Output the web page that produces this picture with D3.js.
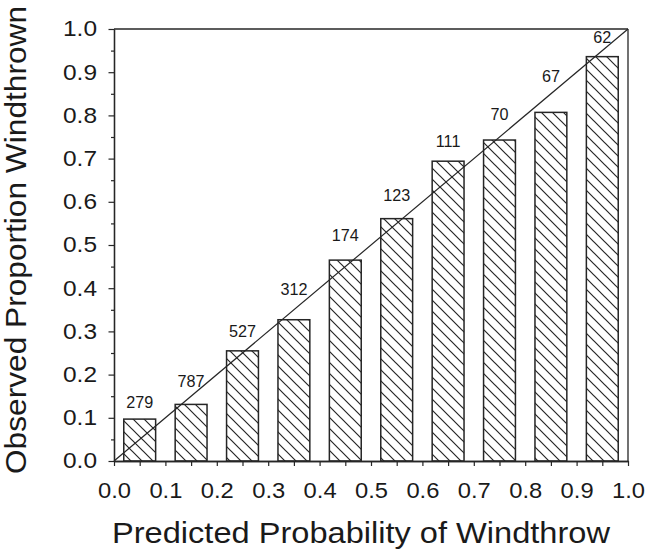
<!DOCTYPE html>
<html>
<head>
<meta charset="utf-8">
<script src="https://cdn.jsdelivr.net/npm/d3@7"></script>
<style>
  html, body { margin: 0; padding: 0; background: #fff; }
  svg { display: block; }
  text { font-family: "Liberation Sans", Arial, sans-serif; fill: #1a1a1a; }
</style>
</head>
<body>
<svg id="chart" width="647" height="558"></svg>
<script>
// ---- data ----
const binCenters = [0.05, 0.15, 0.25, 0.35, 0.45, 0.55, 0.65, 0.75, 0.85, 0.95];
const observed   = [0.097, 0.131, 0.255, 0.327, 0.465, 0.561, 0.694, 0.743, 0.807, 0.936];
const counts     = [279, 787, 527, 312, 174, 123, 111, 70, 67, 62];
const countLabelY = [0.136, 0.184, 0.301, 0.398, 0.523, 0.614, 0.741, 0.803, 0.891, 0.980];
const majorTicks = [0.0, 0.1, 0.2, 0.3, 0.4, 0.5, 0.6, 0.7, 0.8, 0.9, 1.0];
const minorTicks = [0.05, 0.15, 0.25, 0.35, 0.45, 0.55, 0.65, 0.75, 0.85, 0.95];
const xTitle = "Predicted Probability of Windthrow";
const yTitle = "Observed Proportion Windthrown";

// ---- layout ----
const svg = d3.select("#chart");
const L = 114, R = 628, T = 29, B = 461;
const x = d3.scaleLinear().domain([0, 1]).range([L, R]);
const y = d3.scaleLinear().domain([0, 1]).range([B, T]);
const barW = 0.062; // in data units
const ink = "#262626";

// hatch pattern
const defs = svg.append("defs");
const pat = defs.append("pattern")
  .attr("id", "hatch")
  .attr("patternUnits", "userSpaceOnUse")
  .attr("width", 11).attr("height", 11);
pat.append("path")
  .attr("d", "M-2,-2 L13,13 M-2,9 L2,13 M9,-2 L13,2")
  .attr("stroke", ink).attr("stroke-width", 1.2).attr("fill", "none");

// bars
const data = binCenters.map((c, i) => ({ c, v: observed[i], n: counts[i], ly: countLabelY[i] }));
svg.append("g").selectAll("rect").data(data).join("rect")
  .attr("x", d => x(d.c - barW / 2))
  .attr("y", d => y(d.v))
  .attr("width", d => x(d.c + barW / 2) - x(d.c - barW / 2))
  .attr("height", d => y(0) - y(d.v))
  .attr("fill", "url(#hatch)")
  .attr("stroke", ink).attr("stroke-width", 1.5);

// diagonal 1:1 line
svg.append("line")
  .attr("x1", x(0)).attr("y1", y(0))
  .attr("x2", x(1)).attr("y2", y(1))
  .attr("stroke", ink).attr("stroke-width", 1.2);

// count labels
svg.append("g").selectAll("text").data(data).join("text")
  .attr("x", d => x(d.c))
  .attr("y", d => y(d.ly))
  .attr("dy", "0.35em")
  .attr("text-anchor", "middle")
  .attr("font-size", 16.2)
  .text(d => d.n);

// frame (top and right)
svg.append("line").attr("x1", x(0)).attr("x2", x(1)).attr("y1", y(1)).attr("y2", y(1))
  .attr("stroke", ink).attr("stroke-width", 1.3);
svg.append("line").attr("x1", x(1)).attr("x2", x(1)).attr("y1", y(0)).attr("y2", y(1))
  .attr("stroke", ink).attr("stroke-width", 1.3);

// axes
function styleAxis(g, labelWidth) {
  g.select(".domain").attr("stroke", ink).attr("stroke-width", 1.3);
  g.selectAll(".tick line").attr("stroke", ink).attr("stroke-width", 1.2);
  const t = g.selectAll(".tick text").attr("fill", "#1a1a1a")
    .attr("font-family", "'Liberation Sans', Arial, sans-serif").attr("font-size", 21.5);
  if (labelWidth) t.attr("textLength", labelWidth).attr("lengthAdjust", "spacingAndGlyphs");
}
const yAxis = svg.append("g").attr("transform", `translate(${L},0)`)
  .call(d3.axisLeft(y).tickValues(majorTicks).tickSize(5.5).tickSizeOuter(0)
    .tickPadding(11.5).tickFormat(d3.format(".1f")));
styleAxis(yAxis, 34);
const yMinor = svg.append("g").attr("transform", `translate(${L},0)`)
  .call(d3.axisLeft(y).tickValues(minorTicks).tickSize(3).tickSizeOuter(0).tickFormat(""));
styleAxis(yMinor);

const xAxis = svg.append("g").attr("transform", `translate(0,${B})`)
  .call(d3.axisBottom(x).tickValues(majorTicks).tickSize(5).tickSizeOuter(0)
    .tickPadding(17).tickFormat(d3.format(".1f")));
styleAxis(xAxis, 33);
const xMinor = svg.append("g").attr("transform", `translate(0,${B})`)
  .call(d3.axisBottom(x).tickValues(minorTicks).tickSize(5).tickSizeOuter(0).tickFormat(""));
styleAxis(xMinor);

// axis titles
svg.append("text")
  .attr("x", 361).attr("y", 543)
  .attr("text-anchor", "middle")
  .attr("font-size", 29)
  .attr("textLength", 498).attr("lengthAdjust", "spacingAndGlyphs")
  .text(xTitle);
svg.append("text")
  .attr("transform", `translate(26,240) rotate(-90)`)
  .attr("text-anchor", "middle")
  .attr("font-size", 30)
  .attr("textLength", 468).attr("lengthAdjust", "spacingAndGlyphs")
  .text(yTitle);
</script>
</body>
</html>
